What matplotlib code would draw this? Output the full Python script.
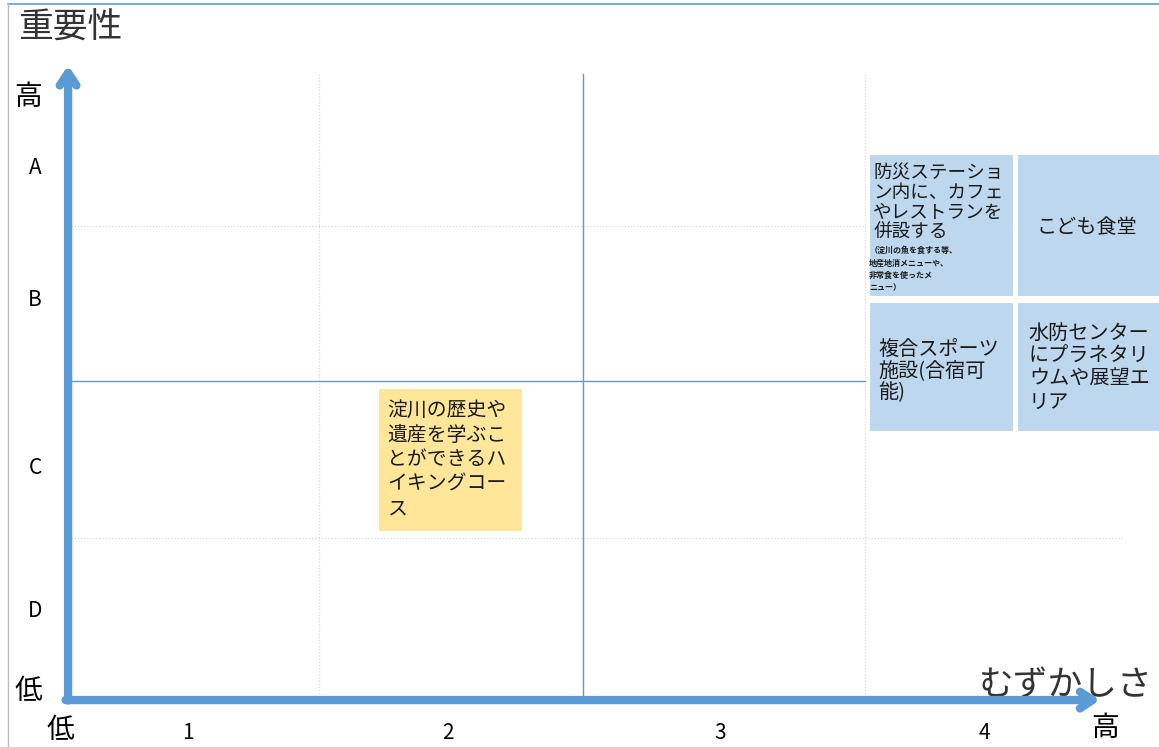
import matplotlib.pyplot as plt
from matplotlib.patches import Rectangle

plt.rcParams['font.family'] = ['Noto Sans CJK JP', 'DejaVu Sans']

# data
items = ['防災ステーション内に、カフェやレストランを併設する',
         'こども食堂',
         '複合スポーツ施設(合宿可能)',
         '水防センターにプラネタリウムや展望エリア',
         '淀川の歴史や遺産を学ぶことができるハイキングコース']
difficulty = [3.31, 3.87, 3.31, 3.87, 1.45]   # むずかしさ (column units)
importance = [3.02, 3.02, 2.12, 2.12, 1.53]   # 重要性 (row units)
x_ticks = ['1', '2', '3', '4']
x_tick_pos = [0.455, 1.44, 2.47, 3.47]
y_ticks = ['D', 'C', 'B', 'A']
y_tick_pos = [0.57, 1.48, 2.55, 3.39]

# wrapped box labels (line breaks as in the picture)
box_text = ['防災ステーショ\nン内に、カフェ\nやレストランを\n併設する',
            'こども食堂',
            '複合スポーツ\n施設(合宿可\n能)',
            '水防センター\nにプラネタリ\nウムや展望エ\nリア',
            '淀川の歴史や\n遺産を学ぶこ\nとができるハ\nイキングコー\nス']
note = '（淀川の魚を食する等、\n地産地消メニューや、\n非常食を使ったメ\nニュー）'
box_h = [0.91, 0.91, 0.83, 0.83, 0.92]
box_c = ['#BDD7EE', '#BDD7EE', '#BDD7EE', '#BDD7EE', '#FFE699']

fig = plt.figure(figsize=(11.59, 7.47), dpi=100)
ax = fig.add_axes([0, 0, 1, 1])
ax.set_xlim(-0.258, 4.133)
ax.set_ylim(-0.299, 4.459)
ax.axis('off')

blue = '#5B9BD5'
light = '#C9DDF0'
dots = (0, (1, 1.5))

# grid
ax.plot([0.95, 0.95], [0, 3.99], color=light, lw=0.9, ls=dots)
ax.plot([3.02, 3.02], [0, 3.99], color=light, lw=0.9, ls=dots)
ax.plot([0, 4.0], [1.03, 1.03], color=light, lw=0.9, ls=dots)
ax.plot([0, 4.0], [3.02, 3.02], color=light, lw=0.9, ls=dots)
ax.plot([1.95, 1.95], [0, 3.99], color=blue, lw=1.0)
ax.plot([0, 3.02], [2.03, 2.03], color=blue, lw=1.0)

# boxes
for i in range(len(items)):
    w = 0.55
    h = box_h[i]
    x0 = difficulty[i] - w / 2
    y0 = importance[i] - h / 2
    ax.add_patch(Rectangle((x0, y0), w, h, facecolor=box_c[i], edgecolor='white',
                           lw=1.5, zorder=3, clip_on=False))

# box texts
tc = '#1a1a1a'
ax.text(3.05, 3.41, box_text[0], fontsize=13.4, va='top', ha='left',
        linespacing=1.12, zorder=4, color=tc)
ax.text(3.035, 2.89, note, fontsize=5.8, va='top', ha='left',
        linespacing=1.45, zorder=4, color=tc, fontweight='bold')
ax.text(3.86, 3.01, box_text[1], fontsize=14.5, va='center', ha='center',
        zorder=4, color=tc)
ax.text(3.07, 2.30, box_text[2], fontsize=14.5, va='top', ha='left',
        linespacing=1.05, zorder=4, color=tc)
ax.text(3.64, 2.40, box_text[3], fontsize=14.5, va='top', ha='left',
        linespacing=1.12, zorder=4, color=tc)
ax.text(1.21, 1.91, box_text[4], fontsize=14.3, va='top', ha='left',
        linespacing=1.22, zorder=4, color=tc)

# axes arrows
ax.annotate('', xy=(0, 4.06), xytext=(0, -0.02),
            arrowprops=dict(arrowstyle='->,head_length=0.9,head_width=0.6',
                            color=blue, lw=6, capstyle='round'), zorder=5)
ax.annotate('', xy=(3.92, 0), xytext=(-0.02, 0),
            arrowprops=dict(arrowstyle='->,head_length=0.9,head_width=0.6',
                            color=blue, lw=6, capstyle='round'), zorder=5)

# tick labels
for p, t in zip(x_tick_pos, x_ticks):
    ax.text(p, -0.21, t, fontsize=15, ha='center', va='center')
for p, t in zip(y_tick_pos, y_ticks):
    ax.text(-0.125, p, t, fontsize=15, ha='center', va='center')

# axis titles
ax.text(-0.19, 4.28, '重要性', fontsize=25, ha='left', va='center', color='#333333')
ax.text(-0.15, 3.84, '高', fontsize=20, ha='center', va='center')
ax.text(-0.15, 0.06, '低', fontsize=20, ha='center', va='center')
ax.text(-0.03, -0.19, '低', fontsize=20, ha='center', va='center')
ax.text(3.45, 0.09, 'むずかしさ', fontsize=25, ha='left', va='center', color='#333333')
ax.text(3.93, -0.18, '高', fontsize=20, ha='center', va='center')

# frame lines
ax.plot([-0.228, 4.133], [4.434, 4.434], color=blue, lw=1.2, clip_on=False)
ax.plot([-0.228, -0.228], [-0.299, 4.434], color='#BBBBBB', lw=1.0, clip_on=False)

plt.savefig('out.png', dpi=100)
